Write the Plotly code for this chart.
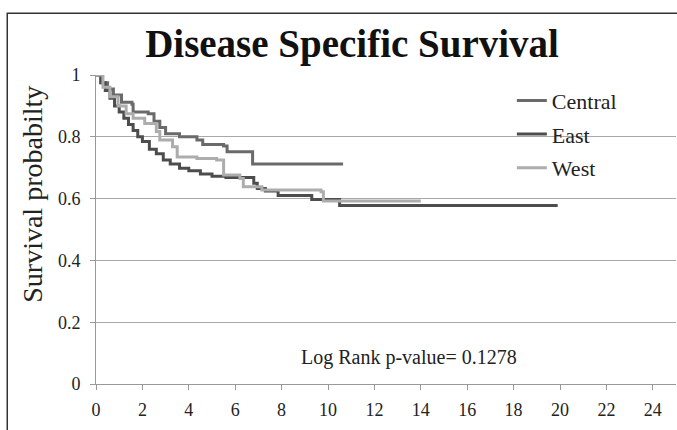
import plotly.graph_objects as go

# Kaplan-Meier step data (time in years, survival probability)
central_t = [0, 0.25, 0.5, 0.75, 1.1, 1.55, 1.6, 2.25, 2.5, 2.75, 3.0, 3.6, 4.35, 4.6, 5.5, 5.65, 6.75, 10.65]
central_s = [1, 0.975, 0.955, 0.935, 0.912, 0.905, 0.88, 0.875, 0.85, 0.83, 0.81, 0.80, 0.79, 0.775, 0.77, 0.752, 0.712, 0.712]

east_t = [0, 0.2, 0.4, 0.6, 0.8, 1.0, 1.2, 1.4, 1.6, 1.8, 2.0, 2.3, 2.6, 2.9, 3.2, 3.6, 4.0, 4.5, 5.0, 5.6, 6.8, 6.95, 7.3, 7.85, 9.3, 10.5, 19.9]
east_s = [1, 0.975, 0.95, 0.925, 0.9, 0.88, 0.86, 0.84, 0.82, 0.80, 0.785, 0.76, 0.745, 0.725, 0.712, 0.698, 0.69, 0.68, 0.672, 0.668, 0.65, 0.633, 0.625, 0.61, 0.597, 0.578, 0.578]

west_t = [0, 0.3, 0.6, 0.95, 1.3, 1.6, 2.1, 2.6, 2.75, 3.3, 3.5, 4.35, 5.2, 5.5, 6.2, 6.35, 7.15, 9.7, 9.8, 14.0]
west_s = [1, 0.96, 0.93, 0.90, 0.875, 0.86, 0.843, 0.817, 0.79, 0.768, 0.735, 0.73, 0.725, 0.676, 0.665, 0.638, 0.628, 0.622, 0.592, 0.592]

x_ticks = list(range(0, 25, 2))
y_ticks = [0, 0.2, 0.4, 0.6, 0.8, 1]
y_tick_text = ["0", "0.2", "0.4", "0.6", "0.8", "1"]

title_text = "Disease Specific Survival"
y_title = "Survival probabilty"
pvalue_text = "Log Rank p-value= 0.1278"

serif = "Liberation Serif, DejaVu Serif, serif"

fig = go.Figure()
series = [
    ("Central", central_t, central_s, "#6a6a6a"),
    ("East", east_t, east_s, "#4d4d4d"),
    ("West", west_t, west_s, "#adadad"),
]
for name, t, s, c in series:
    fig.add_trace(go.Scatter(
        x=t, y=s, mode="lines", name=name, legendgroup=name,
        line=dict(color=c, width=3, shape="hv"),
    ))

fig.update_layout(
    width=677, height=430,
    margin=dict(l=96, r=1, t=75, b=46, autoexpand=False),
    paper_bgcolor="white", plot_bgcolor="white",
    title=dict(text=f"<b>{title_text}</b>", x=0.52, xanchor="center",
               y=0.9, yanchor="middle",
               font=dict(family=serif, size=39, color="#111")),
    showlegend=True,
    legend=dict(x=0.717, y=0.985, xanchor="left", yanchor="top",
                font=dict(family=serif, size=22, color="#222"),
                tracegroupgap=2, bgcolor="rgba(0,0,0,0)"),
    xaxis=dict(range=[0, 25], tickvals=x_ticks, showgrid=False, zeroline=False,
               automargin=False,
               showline=True, linecolor="#999", linewidth=1,
               ticks="outside", ticklen=5, tickcolor="#999",
               ticklabelstandoff=4,
               tickfont=dict(family=serif, size=18, color="#222")),
    yaxis=dict(range=[0, 1], tickvals=y_ticks, ticktext=y_tick_text,
               automargin=False,
               showgrid=True, gridcolor="#a8a8a8", gridwidth=1, zeroline=False,
               showline=True, linecolor="#999", linewidth=1,
               ticks="outside", ticklen=5, tickcolor="#999",
               ticklabelstandoff=6,
               tickfont=dict(family=serif, size=18, color="#222")),
)

fig.add_annotation(x=-0.109, y=0.615, xref="paper", yref="paper", text=y_title,
                   textangle=-90, showarrow=False, xanchor="center", yanchor="middle",
                   font=dict(family=serif, size=28, color="#222"))

fig.add_annotation(x=13.5, y=0.087, xref="x", yref="y", text=pvalue_text,
                   showarrow=False, font=dict(family=serif, size=20, color="#222"))

# outer frame
fig.add_shape(type="rect", xref="paper", yref="paper",
              x0=-0.153, x1=1.1, y0=-0.3, y1=1.2, line=dict(color="#333", width=1.5),
              fillcolor="rgba(0,0,0,0)", layer="below")

fig.write_html("out.html", config={"displayModeBar": False},
               post_script="document.body.style.margin='0';document.body.style.overflow='hidden';")
